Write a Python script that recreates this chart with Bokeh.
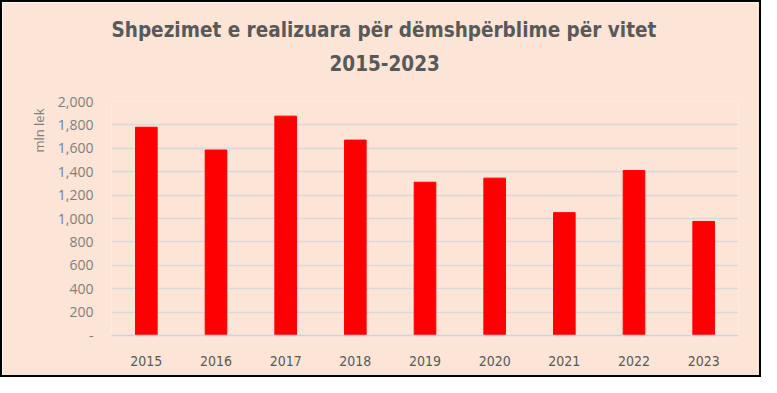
from bokeh.plotting import figure
from bokeh.models import FactorRange, Range1d, FixedTicker, NumeralTickFormatter, Title
from bokeh.embed import file_html
from bokeh.resources import INLINE

years = ["2015", "2016", "2017", "2018", "2019", "2020", "2021", "2022", "2023"]
values = [1780, 1585, 1875, 1670, 1310, 1345, 1050, 1410, 975]
y_ticks = [0, 200, 400, 600, 800, 1000, 1200, 1400, 1600, 1800, 2000]
title_line1 = "Shpezimet e realizuara për dëmshpërblime për vitet"
title_line2 = "2015-2023"
y_label = "mln lek"

BG = "#FCE4D6"
NARROW = "'DejaVu Sans Condensed', 'Roboto', sans-serif"
REG = "'Open Sans', sans-serif"

p = figure(width=761, height=377, output_backend="svg", toolbar_location=None,
           x_range=FactorRange(factors=years, range_padding=0),
           y_range=Range1d(0, 2000),
           min_border_left=109, min_border_right=25, min_border_top=99, min_border_bottom=44)
p.styles = {"border": "2px solid black", "box-sizing": "border-box"}
p.background_fill_color = BG
p.border_fill_color = BG
p.outline_line_color = None

p.vbar(x=years, top=values, width=0.31, color="#FF0000")

p.title.visible = False
spacer = Title(text=" ", text_font_size="1px", standoff=19)
t2 = Title(text=title_line2, align="left", text_font=NARROW, text_font_size="20.5px",
           text_font_style="bold", text_color="#595959", standoff=17, offset=218)
t1 = Title(text=title_line1, align="left", text_font=NARROW, text_font_size="20.5px",
           text_font_style="bold", text_color="#595959", standoff=6, offset=0)
p.add_layout(spacer, "above")
p.add_layout(t2, "above")
p.add_layout(t1, "above")

p.xgrid.grid_line_color = None
p.ygrid.grid_line_color = "#D9D9D9"
p.ygrid.grid_line_width = 1.5

p.yaxis.ticker = FixedTicker(ticks=y_ticks)
p.yaxis.formatter = NumeralTickFormatter(format="0,0")
p.yaxis.major_label_overrides = {0: "-"}
p.yaxis.axis_line_color = None
p.yaxis.major_tick_line_color = None
p.yaxis.minor_tick_line_color = None
p.yaxis.major_label_text_font = REG
p.yaxis.major_label_text_font_size = "14px"
p.yaxis.major_label_text_color = "#7F7F7F"
p.yaxis.major_label_standoff = 12

ylab = Title(text=y_label, align="right", offset=7, text_font=REG, text_font_size="13px",
             text_font_style="normal", text_color="#7F7F7F", standoff=14)
p.add_layout(ylab, "left")

p.xaxis.axis_line_color = "#CCD3DB"
p.xaxis.axis_line_width = 1.5
p.xaxis.major_tick_line_color = None
p.xaxis.minor_tick_line_color = None
p.xaxis.major_label_text_font = NARROW
p.xaxis.major_label_text_font_size = "14px"
p.xaxis.major_label_text_color = "#595959"
p.xaxis.major_label_standoff = 14

open("out.html", "w").write(file_html(p, INLINE))
